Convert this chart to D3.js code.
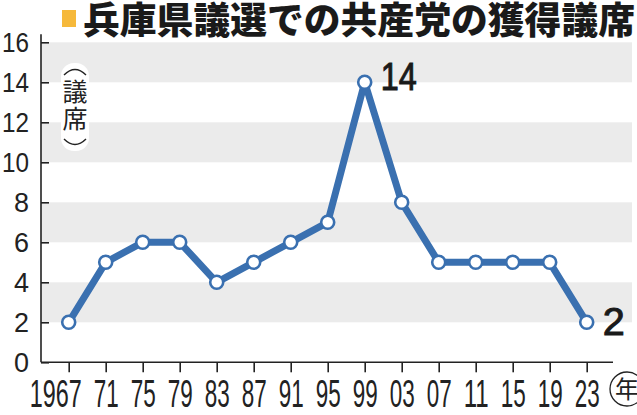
<!DOCTYPE html>
<html><head><meta charset="utf-8">
<script src="https://cdn.jsdelivr.net/npm/d3@7"></script>
<style>
html,body{margin:0;padding:0;background:#fff;}
svg{display:block;}
</style></head>
<body>
<svg id="c" width="637" height="415"></svg>
<script>
const years = ["1967","71","75","79","83","87","91","95","99","03","07","11","15","19","23"];
const seats = [2,5,6,6,4,5,6,7,14,8,5,5,5,5,2];
const yTicks = [0,2,4,6,8,10,12,14,16];
const bands = [[2,4],[6,8],[10,12],[14,16]];
const title = "兵庫県議選での共産党の獲得議席";
const unitChars = ["議","席"];
const annotations = [{i:8, text:"14", dx:16, dy:8, len:36}, {i:14, text:"2", dx:16, dy:13, len:22}];

const svg = d3.select("#c");
const x = d3.scalePoint().domain(years).range([68.7, 586.7]);
const y = d3.scaleLinear().domain([0,16]).range([362.3, 42.3]);
const axX0 = 41, axX1 = 613;
const blue = "#3a70b0";
const num = "'Liberation Sans Narrow','Liberation Sans',Arial,sans-serif";
const jp = "'Noto Sans CJK JP','Noto Sans CJK SC',sans-serif";

// bands
svg.append("g").selectAll("rect").data(bands).join("rect")
  .attr("x", axX0).attr("width", 632-axX0)
  .attr("y", d=>y(d[1])).attr("height", d=>y(d[0])-y(d[1]))
  .attr("fill", "#ebebeb");

// y axis
const ya = svg.append("g").attr("transform", `translate(${axX0},0)`)
  .call(d3.axisRight(y).tickValues(yTicks).tickSize(8).tickFormat(""));
ya.select(".domain").attr("d", `M0,${y(16)-8}V${y(0)}`).attr("stroke","#222").attr("stroke-width",1.6);
ya.selectAll(".tick line").attr("stroke","#222").attr("stroke-width",1.6);

svg.append("g").selectAll("text").data(yTicks).join("text")
  .attr("x", 29).attr("y", d=>y(d)).attr("dy","0.36em")
  .attr("text-anchor","end")
  .attr("font-family", num).attr("font-size", 28).attr("fill","#222")
  .attr("textLength", d=>String(d).length===1?15:27).attr("lengthAdjust","spacingAndGlyphs")
  .text(d=>d);

// x axis
const xa = svg.append("g").attr("transform", `translate(0,${y(0)})`)
  .call(d3.axisBottom(x).tickSize(10).tickFormat(""));
xa.select(".domain").attr("d", `M${axX0},0H${axX1}`).attr("stroke","#222").attr("stroke-width",1.6);
xa.selectAll(".tick line").attr("stroke","#222").attr("stroke-width",1.6);

svg.append("g").selectAll("text").data(years).join("text")
  .attr("x", d=>x(d)+13).attr("y", 407)
  .attr("text-anchor","end")
  .attr("font-family", num).attr("font-size", 38).attr("fill","#222")
  .attr("textLength", d=>d.length===4?52:25).attr("lengthAdjust","spacingAndGlyphs")
  .text(d=>d);

// circled 年
svg.append("circle").attr("cx", 627).attr("cy", 389).attr("r", 17)
  .attr("fill","none").attr("stroke","#222").attr("stroke-width",1.3);
svg.append("text").attr("x", 627).attr("y", 389).attr("dy","0.36em")
  .attr("text-anchor","middle").attr("font-family", jp).attr("font-size", 24).attr("fill","#222")
  .text("年");

// y unit label
svg.append("rect").attr("x",61).attr("y",63).attr("width",28).attr("height",88).attr("rx",13).attr("fill","#fff");
svg.append("path").attr("d","M64,75 Q75,64 86,75").attr("fill","none").attr("stroke","#222").attr("stroke-width",1.4);
svg.append("path").attr("d","M64,139 Q75,150 86,139").attr("fill","none").attr("stroke","#222").attr("stroke-width",1.4);
const unitY = [92, 119];
svg.append("g").selectAll("text").data(unitChars).join("text")
  .attr("x",75).attr("y",(d,i)=>unitY[i]).attr("dy","0.36em")
  .attr("text-anchor","middle")
  .attr("font-family", jp).attr("font-size", 25).attr("fill","#222")
  .text(d=>d);

// line
const line = d3.line().x((d,i)=>x(years[i])).y(d=>y(d));
svg.append("path").datum(seats).attr("d", line)
  .attr("fill","none").attr("stroke", blue).attr("stroke-width",7).attr("stroke-linejoin","round");
svg.append("g").selectAll("circle").data(seats).join("circle")
  .attr("cx",(d,i)=>x(years[i])).attr("cy", d=>y(d)).attr("r",6.5)
  .attr("fill","#fff").attr("stroke", blue).attr("stroke-width",2.6);

// annotations
svg.append("g").selectAll("text").data(annotations).join("text")
  .attr("x", d=>x(years[d.i])+d.dx).attr("y", d=>y(seats[d.i])+d.dy)
  .attr("font-family","'Liberation Sans',Arial,sans-serif").attr("font-size",38)
  .attr("fill","#1a1a1a").attr("stroke","#1a1a1a").attr("stroke-width",1)
  .attr("textLength", d=>d.len).attr("lengthAdjust","spacingAndGlyphs")
  .text(d=>d.text);

// title
svg.append("rect").attr("x",62).attr("y",10).attr("width",14).attr("height",17).attr("fill","#f6b93b");
svg.append("text").attr("x",83).attr("y",34)
  .attr("font-family", jp).attr("font-size",37).attr("font-weight",900).attr("fill","#1a1a1a")
  .attr("textLength", 552).attr("lengthAdjust","spacingAndGlyphs")
  .text(title);
</script>
</body></html>
